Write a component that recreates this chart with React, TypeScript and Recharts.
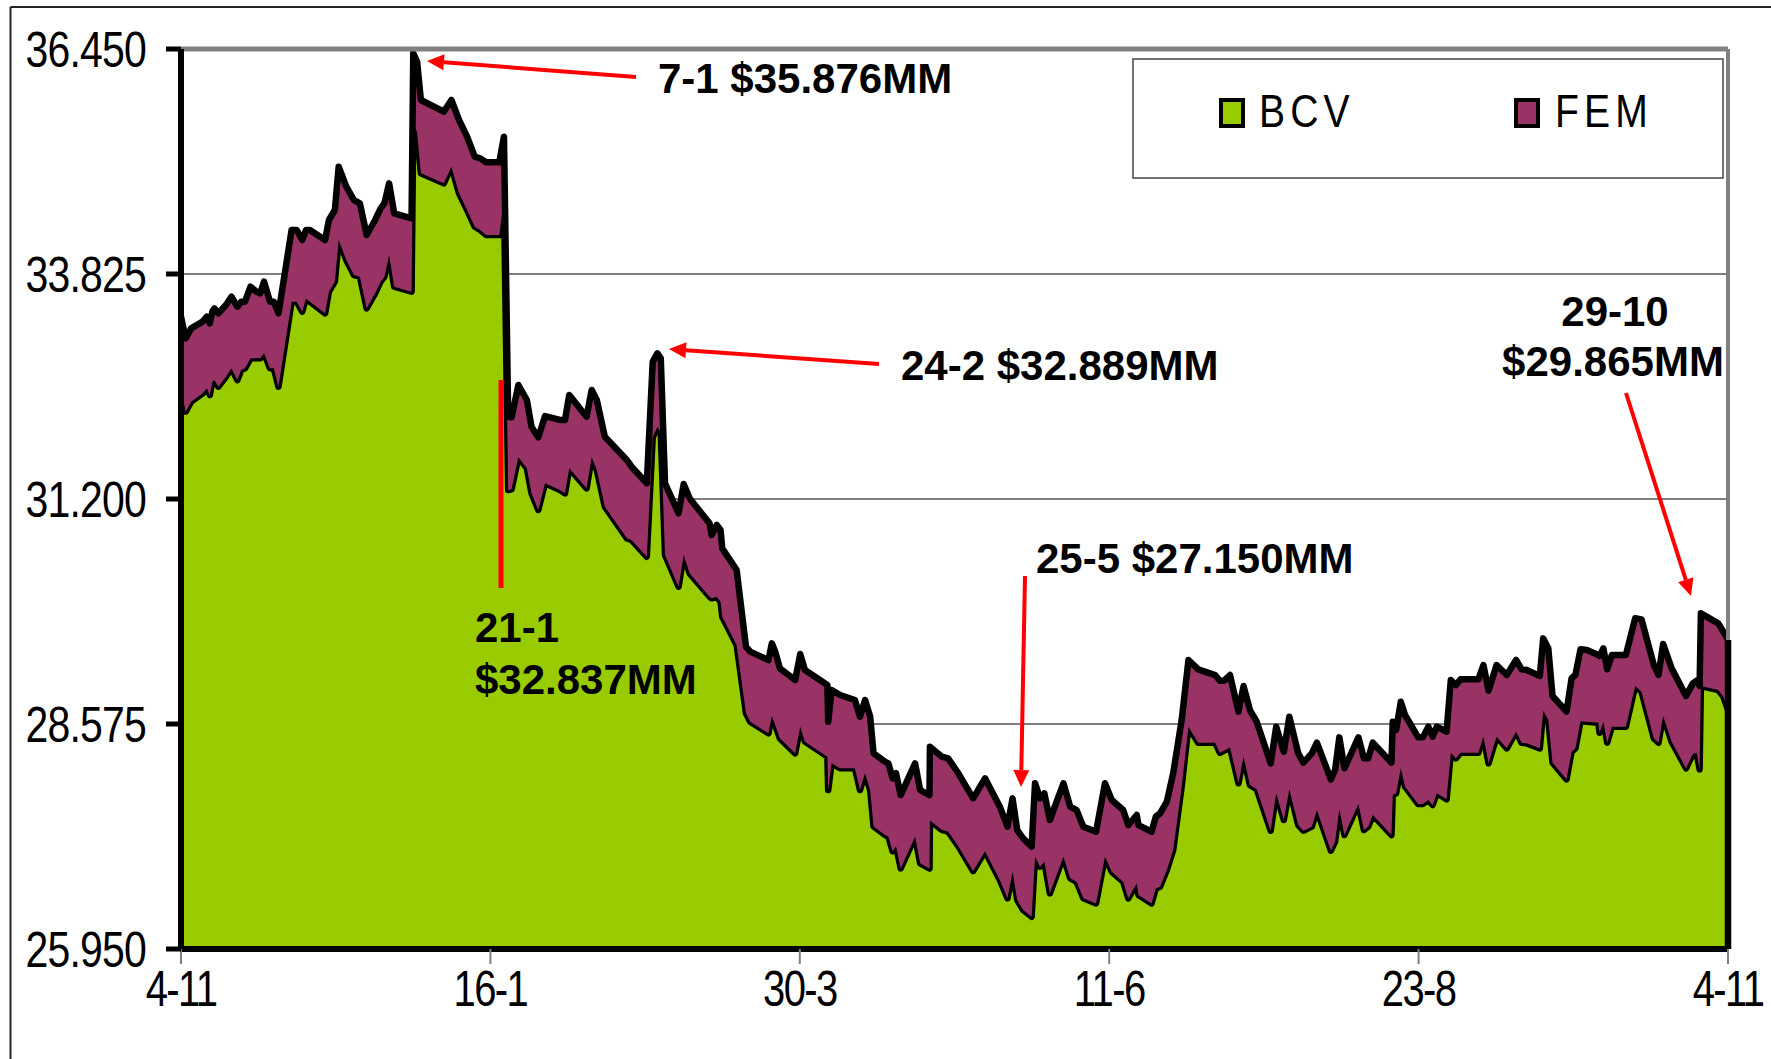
import React from 'react';
import { AreaChart, Area, XAxis, YAxis, CartesianGrid, ReferenceLine } from 'recharts';

const days = [
  0, 1.1, 2.4, 5.1, 6.1, 6.8, 7.4, 7.9, 8.8, 10.6, 11.9, 13.3, 14.2, 15.1, 16.4, 17.8, 18.7, 19.6, 21.0, 21.9,
  23.0, 26.1, 27.3, 28.6, 29.5, 30.4, 34.0, 34.9, 36.3, 37.2, 39.0, 40.8, 42.2, 43.8, 45.8, 47.1, 48.0, 49.1, 50.3, 54.4,
  54.8, 55.7, 56.6, 62.0, 63.8, 65.6, 67.5, 69.3, 70.6, 72.0, 75.1, 76.2,
  77.2, 78.0, 79.6, 81.6, 82.7, 84.3, 85.9, 89.4, 90.6, 91.6, 95.7, 96.9, 98.1, 100.0, 105.2, 106.3, 109.9, 111.3,
  112.4, 113.2, 114.2, 117.4, 118.6, 120.0, 124.7, 125.2, 126.4, 127.3, 127.7, 131.1,
  133.3, 134.3, 138.6, 139.4, 140.2, 141.3, 144.9, 146.1, 147.2, 152.5, 152.7, 153.5, 155.5, 159.0, 160.2, 161.4,
  162.6, 163.4, 166.1, 166.9, 167.9, 168.7, 169.8, 173.2, 174.4, 176.6, 176.7, 179.5, 181.0, 183.4, 186.9, 189.7,
  193.2, 195.0, 196.2, 197.3, 198.7, 200.7, 201.5, 202.7, 203.7, 205.0, 208.2, 209.8, 211.3, 212.9, 215.9, 218.0,
  219.6, 222.3, 223.5, 225.5, 225.9, 229.0, 230.0, 231.0, 232.6, 234.1, 236.1, 237.7, 240.0, 244.0, 245.1, 246.1,
  247.5, 249.5, 250.7, 252.2,
  253.8, 257.1, 258.4, 260.2, 261.5, 263.6, 264.8, 266.8, 268.0, 271.3, 272.3, 273.3, 274.5, 277.8, 279.1, 280.1,
  281.2, 285.6, 285.9, 286.7, 287.8, 288.8, 291.9, 293.0, 294.3, 295.3, 296.3, 298.6, 299.6, 300.8, 301.9, 306.1,
  307.3, 308.5, 310.4, 312.8, 315.0,
  316.3, 317.5, 320.6, 321.4, 322.6, 323.6, 326.9, 328.1, 329.0, 330.2, 331.7, 334.4, 334.7, 335.6, 336.5, 337.6,
  340.9, 343.1, 344.6, 347.5, 348.6, 349.7, 351.7, 355.1, 356.7, 357.6, 358.3, 358.6, 362.7, 363.9, 365.0,
];

const bcv = [
  32.491, 32.219, 32.336, 32.433, 32.491, 32.413, 32.569, 32.588, 32.510, 32.627, 32.724, 32.588, 32.705, 32.724, 32.841, 32.841, 32.841, 32.899, 32.724, 32.724,
  32.510, 33.502, 33.502, 33.386, 33.540, 33.502, 33.366, 33.619, 33.736, 34.222, 33.988, 33.813, 33.794, 33.424, 33.600, 33.736, 33.794, 34.047, 33.677, 33.619,
  35.544, 35.486, 35.000, 34.883, 35.077, 34.766, 34.572, 34.377, 34.338, 34.280, 34.280, 34.688,
  31.305, 31.313, 31.686, 31.558, 31.266, 31.072, 31.383, 31.305, 31.266, 31.558, 31.324, 31.686, 31.538, 31.110, 30.741, 30.722, 30.527, 31.919,
  32.044, 31.966, 30.547, 30.177, 30.547, 30.333, 30.060, 30.041, 30.060, 30.002, 29.827, 29.497,
  28.699, 28.602, 28.466, 28.668, 28.563, 28.408, 28.233, 28.544, 28.369, 28.194, 27.805, 28.116, 28.058, 28.058, 27.805, 28.000,
  27.805, 27.380, 27.280, 27.260, 27.090, 27.150, 26.890, 27.260, 26.950, 26.890, 27.450, 27.340, 27.320, 27.150, 26.860, 27.090,
  26.755, 26.541, 26.852, 26.521, 26.405, 26.327, 27.027, 26.910, 26.969, 26.599, 27.027, 26.774, 26.735, 26.541, 26.482, 27.027,
  26.852, 26.735, 26.541, 26.716, 26.580, 26.482, 26.657, 26.677, 26.871, 27.105, 27.844, 28.543, 28.357, 28.357, 28.240, 28.264,
  28.302, 27.883, 28.193, 27.863,
  27.813, 27.330, 27.766, 27.455, 27.813, 27.397, 27.330, 27.377, 27.571, 27.097, 27.202, 27.579, 27.280, 27.642, 27.338, 27.377,
  27.513, 27.280, 27.747, 27.766, 28.058, 27.844, 27.642, 27.642, 27.688, 27.630, 27.766, 27.696, 28.240, 28.174, 28.240, 28.240,
  28.427, 28.116, 28.427, 28.291, 28.485,
  28.357, 28.349, 28.291, 28.730, 28.622, 28.124, 27.929, 28.252, 28.291, 28.606, 28.602, 28.590, 28.474, 28.602, 28.357, 28.544,
  28.544, 29.018, 28.952, 28.408, 28.357, 28.668, 28.369, 28.058, 28.225, 28.240, 28.046, 29.018, 28.972, 28.894, 28.738,
];

const fem = [
  0.836, 0.855, 0.855, 0.836, 0.836, 0.836, 0.817, 0.836, 0.856, 0.836, 0.836, 0.856, 0.797, 0.778, 0.836, 0.778, 0.759, 0.837, 0.778, 0.778,
  0.856, 0.836, 0.836, 0.836, 0.798, 0.836, 0.856, 0.836, 0.836, 0.855, 0.856, 0.875, 0.856, 0.856, 0.855, 0.855, 0.856, 0.836, 0.856, 0.856,
  0.855, 0.816, 0.855, 0.836, 0.778, 0.856, 0.855, 0.817, 0.836, 0.848, 0.848, 0.739,
  0.855, 0.840, 0.844, 0.797, 0.778, 0.847, 0.785, 0.817, 0.856, 0.855, 0.836, 0.786, 0.817, 0.817, 0.914, 0.855, 0.856, 0.883,
  0.855, 0.875, 0.836, 0.856, 0.828, 0.875, 0.856, 0.739, 0.837, 0.836, 0.797, 0.874,
  0.778, 0.817, 0.855, 0.848, 0.856, 0.816, 0.855, 0.847, 0.836, 0.836, 0.797, 0.855, 0.855, 0.797, 0.855, 0.855,
  0.855, 0.853, 0.855, 0.856, 0.851, 0.850, 0.856, 0.856, 0.855, 0.856, 0.860, 0.854, 0.854, 0.850, 0.848, 0.851,
  0.855, 0.836, 0.855, 0.817, 0.836, 0.816, 0.856, 0.797, 0.797, 0.856, 0.856, 0.836, 0.836, 0.836, 0.836, 0.856,
  0.836, 0.836, 0.855, 0.797, 0.816, 0.836, 0.837, 0.855, 0.798, 0.895, 0.777, 0.778, 0.856, 0.789, 0.840, 0.816,
  0.844, 0.836, 0.825, 0.875,
  0.789, 0.786, 0.778, 0.797, 0.847, 0.836, 0.794, 0.856, 0.786, 0.832, 0.836, 0.840, 0.778, 0.777, 0.836, 0.797,
  0.844, 0.844, 0.855, 0.739, 0.777, 0.836, 0.777, 0.777, 0.856, 0.797, 0.778, 0.789, 0.848, 0.856, 0.856, 0.856,
  0.836, 0.848, 0.836, 0.856, 0.837,
  0.856, 0.856, 0.844, 0.844, 0.836, 0.778, 0.790, 0.856, 0.856, 0.840, 0.836, 0.790, 0.894, 0.856, 0.856, 0.836,
  0.836, 0.790, 0.844, 0.855, 0.790, 0.840, 0.855, 0.844, 0.824, 0.840, 0.972, 0.848, 0.777, 0.758, 0.817,
];

const xTickDays = [0, 73, 146, 219, 292, 365];
const xTickLabels = ['4-11', '16-1', '30-3', '11-6', '23-8', '4-11'];
const yTicks = [25.95, 28.575, 31.2, 33.825, 36.45];
const seriesNames = ['BCV', 'FEM'];
const seriesColors = ['#99CC00', '#993366'];

const rows = days.map((d, i) => ({ day: d, BCV: bcv[i], FEM: fem[i] }));
const lastTotal = bcv[bcv.length - 1] + fem[fem.length - 1];

const SANS = "'Liberation Sans', Arial, sans-serif";

const YTick = (props: any) => {
  const { x, y, payload } = props;
  return (
    <g transform={`translate(${x},${y}) scale(0.82,1)`}>
      <text x={0} y={0} dy="0.355em" textAnchor="end" fill="#000" fontSize={50} fontFamily={SANS} letterSpacing={-1}>
        {Number(payload.value).toFixed(3)}
      </text>
    </g>
  );
};

const XTick = (props: any) => {
  const { x, y, payload } = props;
  const idx = xTickDays.indexOf(payload.value);
  return (
    <g transform={`translate(${x},${y}) scale(0.8,1)`}>
      <text x={0} y={0} dy="0.71em" textAnchor="middle" fill="#000" fontSize={50} fontFamily={SANS} letterSpacing={-2}>
        {idx >= 0 ? xTickLabels[idx] : ''}
      </text>
    </g>
  );
};

const Arrow = ({ x1, y1, x2, y2, w = 4 }: any) => {
  const dx = x2 - x1;
  const dy = y2 - y1;
  const len = Math.sqrt(dx * dx + dy * dy);
  const ux = dx / len;
  const uy = dy / len;
  const hl = 17;
  const hw = 8;
  const bx = x2 - ux * hl;
  const by = y2 - uy * hl;
  const p = `${x2},${y2} ${bx - uy * hw},${by + ux * hw} ${bx + uy * hw},${by - ux * hw}`;
  return (
    <g>
      <line x1={x1} y1={y1} x2={bx} y2={by} stroke="#FF0000" strokeWidth={w} />
      <polygon points={p} fill="#FF0000" />
    </g>
  );
};

const annStyle = { fontFamily: SANS, fontWeight: 700, fontSize: 42, fill: '#000' } as any;

export default function App() {
  return (
    <div style={{ position: 'absolute', left: 0, top: 0, width: 1771, height: 1059, background: '#fff' }}>
      <AreaChart width={1771} height={1059} data={rows} margin={{ top: 49, right: 43, bottom: 0, left: 0 }}>
        <CartesianGrid horizontal vertical={false} stroke="#000" strokeWidth={1.2} />
        <Area
          type="linear"
          dataKey="BCV"
          name={seriesNames[0]}
          stackId="s"
          fill={seriesColors[0]}
          fillOpacity={1}
          stroke="#000"
          strokeWidth={6.5}
          strokeLinejoin="round"
          dot={false}
          activeDot={false}
          isAnimationActive={false}
        />
        <Area
          type="linear"
          dataKey="FEM"
          name={seriesNames[1]}
          stackId="s"
          fill={seriesColors[1]}
          fillOpacity={1}
          stroke="#000"
          strokeWidth={6.5}
          strokeLinejoin="round"
          dot={false}
          activeDot={false}
          isAnimationActive={false}
        />
        <ReferenceLine y={36.45} stroke="#808080" strokeWidth={5} />
        <ReferenceLine x={365} stroke="#808080" strokeWidth={4} />
        <ReferenceLine segment={[{ x: 365, y: 25.95 }, { x: 365, y: lastTotal }]} stroke="#000" strokeWidth={6.5} />
        <XAxis
          dataKey="day"
          type="number"
          domain={[0, 365]}
          ticks={xTickDays}
          interval={0}
          height={110}
          tickSize={15}
          tickMargin={6}
          axisLine={{ stroke: '#000', strokeWidth: 6 }}
          tickLine={{ stroke: '#808080', strokeWidth: 2 }}
          tick={<XTick />}
          allowDataOverflow
        />
        <YAxis
          type="number"
          domain={[25.95, 36.45]}
          ticks={yTicks}
          interval={0}
          width={181}
          tickSize={15}
          tickMargin={20}
          axisLine={{ stroke: '#000', strokeWidth: 6 }}
          tickLine={{ stroke: '#000', strokeWidth: 5 }}
          tick={<YTick />}
          allowDataOverflow
        />
      </AreaChart>
      <svg width={1771} height={1059} style={{ position: 'absolute', left: 0, top: 0, pointerEvents: 'none' }}>
        <line x1={10.5} y1={7} x2={10.5} y2={1059} stroke="#222" strokeWidth={2} />
        <line x1={10.5} y1={7} x2={1771} y2={7} stroke="#222" strokeWidth={2} />

        <rect x={1133} y={59} width={590} height={119} fill="#fff" stroke="#444" strokeWidth={1.5} />
        <rect x={1221} y={100} width={22} height={26} fill={seriesColors[0]} stroke="#000" strokeWidth={4} />
        <g transform="translate(1259,127) scale(0.85,1)">
          <text x={0} y={0} fontFamily={SANS} fontSize={46} letterSpacing={6} fill="#000">{seriesNames[0]}</text>
        </g>
        <rect x={1516} y={100} width={22} height={26} fill={seriesColors[1]} stroke="#000" strokeWidth={4} />
        <g transform="translate(1555,127) scale(0.85,1)">
          <text x={0} y={0} fontFamily={SANS} fontSize={46} letterSpacing={6} fill="#000">{seriesNames[1]}</text>
        </g>

        <Arrow x1={636} y1={77} x2={427} y2={61} />
        <text x={658} y={93} style={annStyle}>7-1 $35.876MM</text>

        <Arrow x1={879} y1={364} x2={669} y2={349} />
        <text x={901} y={380} style={annStyle}>24-2 $32.889MM</text>

        <line x1={501} y1={380} x2={501} y2={588} stroke="#FF0000" strokeWidth={5} />
        <text x={475} y={642} style={annStyle}>21-1</text>
        <text x={475} y={694} style={annStyle}>$32.837MM</text>

        <Arrow x1={1025} y1={576} x2={1021} y2={787} />
        <text x={1036} y={573} style={annStyle}>25-5 $27.150MM</text>

        <Arrow x1={1626} y1={393} x2={1691} y2={596} />
        <text x={1615} y={326} textAnchor="middle" style={annStyle}>29-10</text>
        <text x={1613} y={376} textAnchor="middle" style={annStyle}>$29.865MM</text>
      </svg>
    </div>
  );
}
